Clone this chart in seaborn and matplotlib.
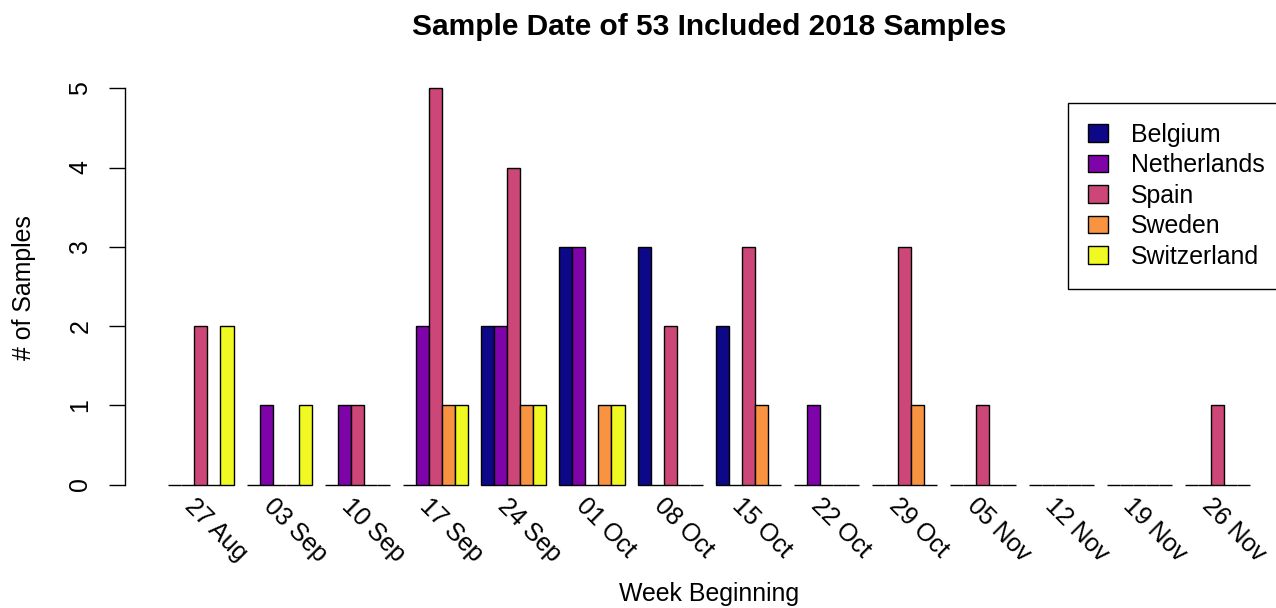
import matplotlib
matplotlib.use("Agg")
import matplotlib.pyplot as plt
from matplotlib.patches import Patch
import seaborn as sns
import pandas as pd

weeks = ["27 Aug", "03 Sep", "10 Sep", "17 Sep", "24 Sep", "01 Oct", "08 Oct",
         "15 Oct", "22 Oct", "29 Oct", "05 Nov", "12 Nov", "19 Nov", "26 Nov"]
countries = ["Belgium", "Netherlands", "Spain", "Sweden", "Switzerland"]

belgium     = [0, 0, 0, 0, 2, 3, 3, 2, 0, 0, 0, 0, 0, 0]
netherlands = [0, 1, 1, 2, 2, 3, 0, 0, 1, 0, 0, 0, 0, 0]
spain       = [2, 0, 1, 5, 4, 0, 2, 3, 0, 3, 1, 0, 0, 1]
sweden      = [0, 0, 0, 1, 1, 1, 0, 1, 0, 1, 0, 0, 0, 0]
switzerland = [2, 1, 0, 1, 1, 1, 0, 0, 0, 0, 0, 0, 0, 0]

colors = ["#0D0887", "#7E03A8", "#CC4678", "#F89441", "#F0F921"]

title = "Sample Date of 53 Included 2018 Samples"
x_label = "Week Beginning"
y_label = "# of Samples"

series = [belgium, netherlands, spain, sweden, switzerland]
rows = []
for country, values in zip(countries, series):
    for week, v in zip(weeks, values):
        rows.append({"week": week, "country": country, "count": v})
df = pd.DataFrame(rows)

sns.set_style("white")
plt.rcParams["font.family"] = ["Liberation Sans", "DejaVu Sans"]
plt.rcParams["text.color"] = "black"
plt.rcParams["axes.labelcolor"] = "black"
plt.rcParams["xtick.color"] = "black"
plt.rcParams["ytick.color"] = "black"
fs = 17.9

W, H = 1276, 608
fig = plt.figure(figsize=(W / 100, H / 100), dpi=100)
ax_left, ax_right = 125, 1293
ax_top, ax_bottom = 72.4, 500.4
ax = fig.add_axes([ax_left / W, 1 - ax_bottom / H,
                   (ax_right - ax_left) / W, (ax_bottom - ax_top) / H])

sns.barplot(data=df, x="week", y="count", hue="country", order=weeks,
            hue_order=countries, palette=colors, saturation=1,
            width=5 / 6, edgecolor="black", linewidth=1.0,
            errorbar=None, legend=False, ax=ax)

ax.set_xlim(-0.971, 13.965)
ax.set_ylim(-0.2, 5.2)
for side in ["top", "right", "bottom"]:
    ax.spines[side].set_visible(False)
ax.spines["left"].set_bounds(0, 5)
ax.spines["left"].set_linewidth(1.0)
ax.spines["left"].set_color("black")
ax.set_yticks(range(0, 6))
ax.set_xticks([])
ax.set_xlabel("")
ax.set_ylabel("")
ax.tick_params(axis="y", length=11.5, width=1.0, color="black", left=True,
               labelsize=fs, pad=12, labelrotation=90, labelcolor="black")
for lab in ax.get_yticklabels():
    lab.set_va("center")

# rotated week labels under each group
for i, wk in enumerate(weeks):
    ax.text(i - 0.045, -0.12, wk, rotation=-45, rotation_mode="anchor",
            ha="left", va="top", fontsize=fs, color="black", clip_on=False)

fig.text(709 / W, 1 - 27 / H, title, ha="center", va="center",
         fontsize=fs * 1.2, fontweight="bold", color="black")
fig.text(709 / W, 1 - 594 / H, x_label, ha="center", va="center",
         fontsize=fs, color="black")
fig.text(24 / W, 1 - 288 / H, y_label, ha="center", va="center",
         rotation=90, fontsize=fs, color="black")

handles = [Patch(facecolor=c, edgecolor="black", linewidth=1.0) for c in colors]
leg = fig.legend(handles, countries, loc="upper left",
                 bbox_to_anchor=(1068 / W, 1 - 103 / H), fontsize=fs,
                 frameon=True, fancybox=False, borderaxespad=0,
                 borderpad=0.8, handlelength=0.8, handleheight=0.7,
                 handletextpad=0.95, labelspacing=0.26)
leg.get_frame().set_edgecolor("black")
leg.get_frame().set_linewidth(1.0)
leg.get_frame().set_alpha(None)
for t in leg.get_texts():
    t.set_color("black")

fig.savefig("out.png", dpi=100)
